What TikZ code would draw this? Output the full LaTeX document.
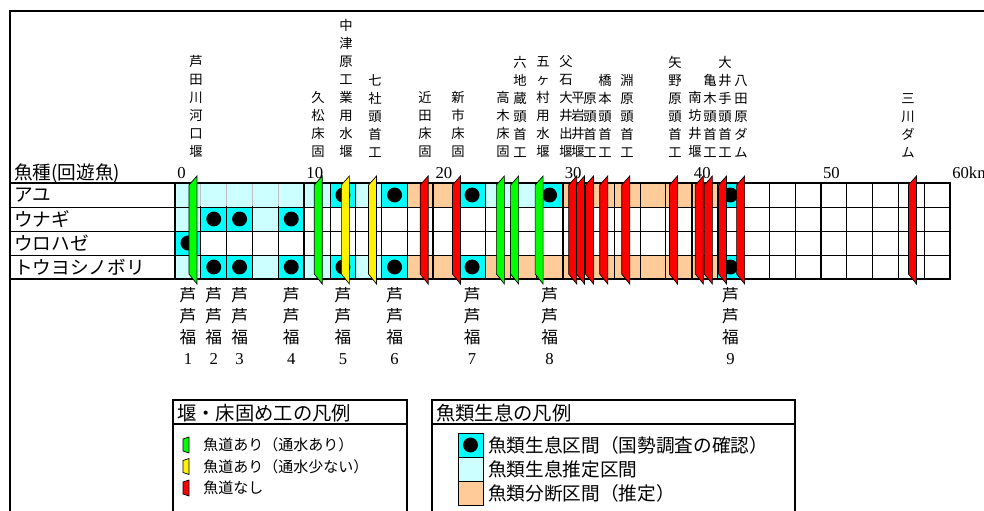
\documentclass[tikz,border=0pt]{standalone}
\usepackage{fontspec}
\setmainfont{Liberation Serif}
\newfontfamily\jp{Noto Sans CJK JP}
\usepackage{tikz}
\usetikzlibrary{positioning}

% cell colours (estimated, confirmed, cut off)
\definecolor{cL}{HTML}{CCFFFF}
\definecolor{cC}{HTML}{00FFFF}
\definecolor{cO}{HTML}{FFCC99}
% width of one 2 km cell and of 1 km
\def\cw{25.8333}
\def\kw{12.9167}

\begin{document}
\begin{tikzpicture}[
    x=0.75pt, y=-0.75pt,
    every node/.style={inner sep=0pt},
    weir/.style={draw=black, line width=0.5pt},
    legbox/.style={draw=black, line width=1.5pt},
    toplab/.style={anchor=south, align=center, font=\jp\fontsize{10}{13.5}\selectfont},
    sitelab/.style={anchor=north, align=center, font=\jp\fontsize{12.5}{15.75}\selectfont},
    rowlab/.style={anchor=west, font=\jp\fontsize{14}{16}\selectfont},
    kmlab/.style={anchor=west, font=\fontsize{12.5}{14}\selectfont},
    legtitle/.style={anchor=west, font=\jp\fontsize{14.5}{16}\selectfont},
    legitem/.style={anchor=west, font=\jp\fontsize{11.25}{13}\selectfont},
    legtext/.style={anchor=west, font=\jp\fontsize{14}{16}\selectfont}]

\useasboundingbox (0,0) rectangle (984,510);
\draw[line width=1.5pt] (10,11) rectangle (1000,530);

% Cells
\foreach \row/\from/\to/\col in {0/0/5/cL, 0/6/6/cC, 0/7/7/cL, 0/8/8/cC, 0/9/10/cO,
    0/11/11/cC, 0/12/13/cL, 0/14/14/cC, 0/15/20/cO, 0/21/21/cC,
    1/0/0/cL, 1/1/2/cC, 1/3/3/cL, 1/4/4/cC, 2/0/0/cC,
    3/0/0/cL, 3/1/2/cC, 3/3/3/cL, 3/4/4/cC, 3/5/5/cL, 3/6/6/cC, 3/7/7/cL, 3/8/8/cC,
    3/9/10/cO, 3/11/11/cC, 3/12/20/cO, 3/21/21/cC}
  \fill[\col] ({175+\from*\cw},{183+\row*24}) rectangle ({175+(\to+1)*\cw},{183+(\row+1)*24});
\foreach \row/\cell in {0/6, 0/8, 0/11, 0/14, 0/21, 1/1, 1/2, 1/4, 2/0,
    3/1, 3/2, 3/4, 3/6, 3/8, 3/11, 3/21}
  \fill[black] ({175+(\cell+0.5)*\cw},{183+(\row+0.5)*24}) circle[radius=5.6pt];

% Table frame
\foreach \cell in {1,...,29}
  \draw[line width=0.6pt] ({175+\cell*\cw},183) -- ++(0,96);
\foreach \cell in {1,2,3,4,13}
  \draw[gray!50, line width=0.6pt] ({175+\cell*\cw},184) -- ++(0,22);
\foreach \row in {1,2,3}
  \draw[line width=0.75pt] (10,{183+\row*24}) -- (950,{183+\row*24});
\foreach \k in {10,20,...,50}
  \draw[line width=1.5pt] ({175+\k*\kw},183) -- ++(0,96);
\draw[line width=2.2pt] (10,183) rectangle (950,279);
\draw[line width=2.2pt] (175,183) -- (175,279);

% Weirs
\foreach \km/\col in {1.7/green, 11.4/green, 13.5/yellow, 15.6/yellow, 19.6/red,
    22.1/red, 25.5/green, 26.6/green, 28.5/green, 31.1/red, 31.7/red, 32.4/red,
    33.5/red, 35.2/red, 38.9/red, 40.9/red, 41.6/red, 42.7/red, 44.1/red, 57.4/red}
  \draw[weir, fill=\col] ({175+\km*\kw},176) -- ++(0,108) -- ++(-8,-10) -- ++(0,-89) -- cycle;

% Weir names
\foreach \xx/\txt [count=\n] in {
    196/{芦\\田\\川\\河\\口\\堰}, 318/{久\\松\\床\\固},
    346/{中\\津\\原\\工\\業\\用\\水\\堰}, 375/{七\\社\\頭\\首\\工},
    425/{近\\田\\床\\固}, 458/{新\\市\\床\\固}, 503/{高\\木\\床\\固},
    520/{六\\地\\蔵\\頭\\首\\工}, 543/{五\\ヶ\\村\\用\\水\\堰},
    566/{父\\石\\大\\井\\出\\堰}, 578/{平\\岩\\井\\堰}, 590/{原\\頭\\首\\工},
    605/{橋\\本\\頭\\首\\工}, 627/{淵\\原\\頭\\首\\工},
    675/{矢\\野\\原\\頭\\首\\工}, 695/{南\\坊\\井\\堰}, 710/{亀\\木\\頭\\首\\工},
    725/{大\\井\\手\\頭\\首\\工}, 741/{八\\田\\原\\ダ\\ム}, 908/{三\\川\\ダ\\ム}}
  \node[toplab] (weir\n) at (\xx,158) {\txt};

% Axis and row labels
\node[rowlab] (head) at (14,173) {魚種(回遊魚)};
\foreach \k in {0,10,...,50}
  \node[kmlab] (km\k) at ({175+\k*\kw+2},173) {\k};
\node[kmlab] (km60) at (952,173) {60km};
\foreach \txt [count=\row] in {アユ, ウナギ, ウロハゼ, トウヨシノボリ}
  \node[rowlab] (fish\row) at (14,{183+(\row-0.5)*24}) {\txt};

% Survey sites
\foreach \cell/\n in {0/1, 1/2, 2/3, 4/4, 6/5, 8/6, 11/7, 14/8, 21/9}
  \node[sitelab] (site\n) at ({175+(\cell+0.5)*\cw},287) {芦\\芦\\福\\\rmfamily\n};

% Legend: weirs
\draw[legbox] (173,400) rectangle (407,530);
\draw[legbox] (173,424) -- (407,424);
\node[legtitle] (legweir) at (177,413) {堰・床固め工の凡例};
\foreach \col/\txt [count=\n] in {green/魚道あり（通水あり）, yellow/魚道あり（通水少ない）, red/魚道なし} {
  \draw[weir, fill=\col] (189,{437+(\n-1)*21.5}) -- ++(0,16) -- ++(-6,-2) -- ++(0,-12) -- cycle;
  \node[legitem] (legweir\n) at (203,{445+(\n-1)*21.5}) {\txt};
}

% Legend: fish
\draw[legbox] (432,400) rectangle (795,530);
\draw[legbox] (432,424) -- (795,424);
\node[legtitle] (legfish) at (436,413) {魚類生息の凡例};
\foreach \col/\txt [count=\n] in {cC/魚類生息区間（国勢調査の確認）, cL/魚類生息推定区間, cO/魚類分断区間（推定）} {
  \draw[fill=\col, line width=0.75pt] (458,{433+(\n-1)*24}) rectangle ++(25,24);
  \node[legtext] (legfish\n) at (488,{445+(\n-1)*24}) {\txt};
}
\fill[black] (470.5,445) circle[radius=5.6pt];
\end{tikzpicture}
\end{document}
